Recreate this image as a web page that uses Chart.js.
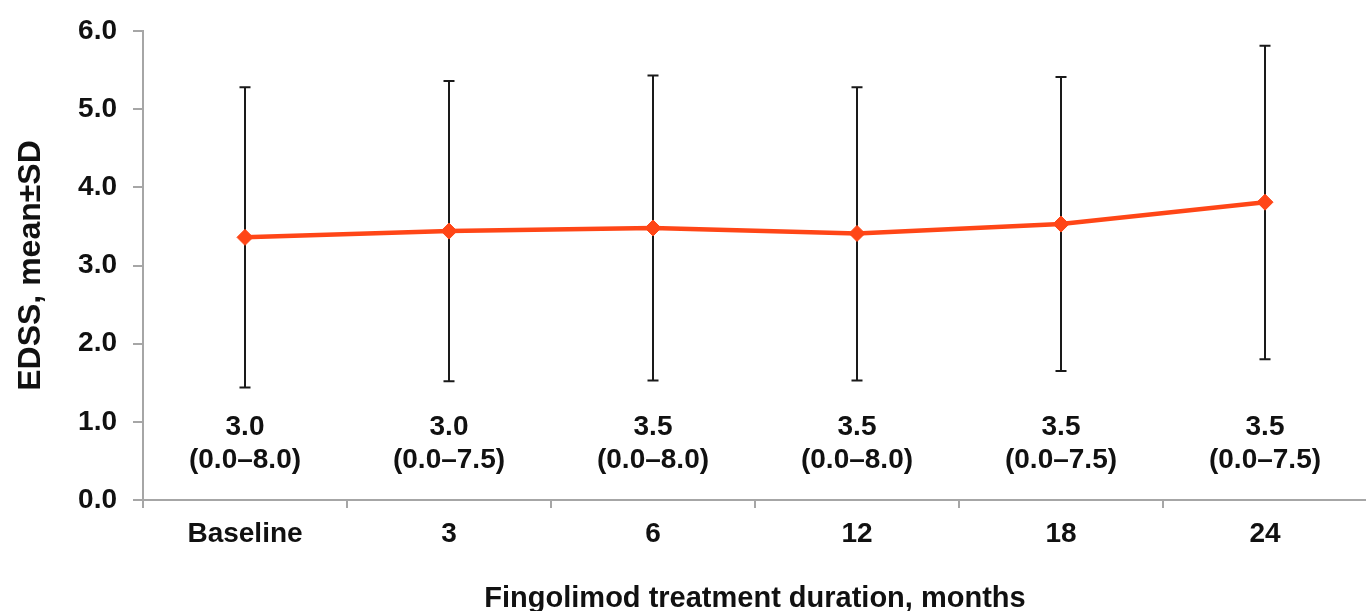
<!DOCTYPE html>
<html>
<head>
<meta charset="utf-8">
<script src="https://cdn.jsdelivr.net/npm/chart.js@4.4.1/dist/chart.umd.min.js"></script>
<style>
  html, body { margin: 0; padding: 0; background: #fff; overflow: hidden; width: 1366px; height: 611px; }
  #wrap { width: 1376px; height: 611px; position: relative; }
</style>
</head>
<body>
<div id="wrap"><canvas id="c" width="1376" height="611"></canvas></div>
<script>
const categories = ['Baseline', '3', '6', '12', '18', '24'];
const meanEDSS = [3.36, 3.44, 3.48, 3.41, 3.53, 3.81];
const sdUpper = [5.28, 5.36, 5.43, 5.28, 5.41, 5.81];
const sdLower = [1.44, 1.52, 1.53, 1.53, 1.65, 1.80];
const medianText = ['3.0', '3.0', '3.5', '3.5', '3.5', '3.5'];
const rangeText = ['(0.0\u20138.0)', '(0.0\u20137.5)', '(0.0\u20138.0)', '(0.0\u20138.0)', '(0.0\u20137.5)', '(0.0\u20137.5)'];
const yTicks = [0, 1, 2, 3, 4, 5, 6];

const FONT = "'Liberation Sans', Arial, sans-serif";
const TEXT = '#111111';
const AXIS = '#a6a6a6';
const ORANGE = '#ff4617';

const errorBars = {
  id: 'errorBars',
  beforeDatasetsDraw(chart) {
    const ctx = chart.ctx;
    const x = chart.scales.x, y = chart.scales.y;
    ctx.save();
    ctx.strokeStyle = '#1a1a1a';
    ctx.lineWidth = 2;
    for (let i = 0; i < categories.length; i++) {
      const px = x.getPixelForValue(i);
      const top = y.getPixelForValue(sdUpper[i]);
      const bot = y.getPixelForValue(sdLower[i]);
      ctx.beginPath();
      ctx.moveTo(px, top); ctx.lineTo(px, bot);
      ctx.moveTo(px - 5.5, top); ctx.lineTo(px + 5.5, top);
      ctx.moveTo(px - 5.5, bot); ctx.lineTo(px + 5.5, bot);
      ctx.stroke();
    }
    ctx.restore();
  },
  afterDatasetsDraw(chart) {
    const ctx = chart.ctx;
    const x = chart.scales.x, y = chart.scales.y;
    const base = y.getPixelForValue(0);
    ctx.save();
    ctx.fillStyle = TEXT;
    ctx.font = 'bold 28px ' + FONT;
    ctx.textAlign = 'center';
    ctx.textBaseline = 'middle';
    for (let i = 0; i < categories.length; i++) {
      const px = x.getPixelForValue(i);
      ctx.fillText(medianText[i], px, base - 73);
      ctx.fillText(rangeText[i], px, base - 40);
    }
    ctx.restore();
  }
};

new Chart(document.getElementById('c'), {
  type: 'line',
  data: {
    labels: categories,
    datasets: [{
      data: meanEDSS,
      borderColor: ORANGE,
      backgroundColor: ORANGE,
      borderWidth: 4.5,
      pointStyle: 'rectRot',
      pointRadius: 8,
      pointBorderWidth: 1,
      pointBackgroundColor: ORANGE,
      pointBorderColor: ORANGE,
      tension: 0,
      fill: false
    }]
  },
  options: {
    responsive: false,
    animation: false,
    events: [],
    layout: { padding: { top: 31, right: 0, bottom: 0, left: 0 } },
    plugins: { legend: { display: false }, tooltip: { enabled: false } },
    scales: {
      x: {
        offset: true,
        grid: { offset: true, drawOnChartArea: false, color: AXIS, lineWidth: 2, tickLength: 8 },
        border: { color: AXIS, width: 2 },
        ticks: { color: TEXT, font: { family: FONT, size: 28, weight: 'bold' }, padding: 9, maxRotation: 0, autoSkip: false },
        title: { display: true, text: 'Fingolimod treatment duration, months', color: TEXT,
                 font: { family: FONT, size: 29, weight: 'bold', lineHeight: 0.85 }, padding: { top: 0, bottom: 0 } },
        afterFit(s) { s.height = 111; s.paddingLeft = 0; s.paddingRight = 0; }
      },
      y: {
        min: 0, max: 6,
        afterBuildTicks(s) { s.ticks = yTicks.map(v => ({ value: v })); },
        grid: { drawOnChartArea: false, color: AXIS, lineWidth: 2, tickLength: 10 },
        border: { color: AXIS, width: 2 },
        ticks: { color: TEXT, font: { family: FONT, size: 28, weight: 'bold' }, padding: 16,
                 callback: v => Number(v).toFixed(1) },
        title: { display: true, text: 'EDSS, mean\u00b1SD', color: TEXT,
                 font: { family: FONT, size: 32, weight: 'bold', lineHeight: 1 }, padding: { top: 15, bottom: 0 } },
        afterFit(s) { s.width = 143; s.paddingTop = 0; s.paddingBottom = 0; }
      }
    }
  },
  plugins: [errorBars]
});
</script>
</body>
</html>
